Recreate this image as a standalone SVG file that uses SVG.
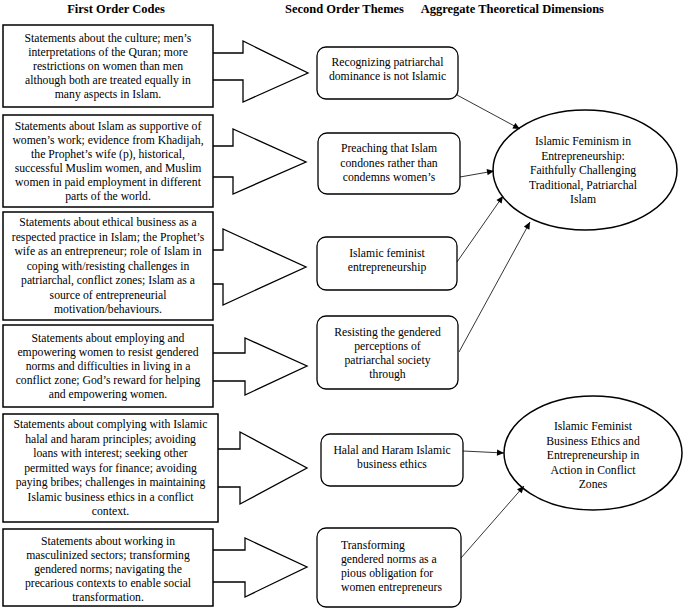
<svg xmlns="http://www.w3.org/2000/svg" width="685" height="610" viewBox="0 0 685 610">
<style>
.h{font-family:"Liberation Serif","Times New Roman",serif;font-weight:bold;font-size:12.5px;fill:#000}
.t{font-family:"Liberation Serif","Times New Roman",serif;font-size:11.7px;fill:#000;text-anchor:middle}
.tl{font-family:"Liberation Serif","Times New Roman",serif;font-size:11.7px;fill:#000}
.box{fill:#fff;stroke:#000;stroke-width:1.5}
.arr{fill:#fff;stroke:#000;stroke-width:1.3}
.rb{fill:#fff;stroke:#000;stroke-width:1.3}
.el{fill:#fff;stroke:#000;stroke-width:1.5}
.con{stroke:#000;stroke-width:0.8;fill:none;marker-end:url(#ah)}
</style>
<defs>
<marker id="ah" viewBox="0 0 10 10" refX="10" refY="5" markerWidth="8" markerHeight="7" markerUnits="userSpaceOnUse" orient="auto"><path d="M0,0.5 L10,5 L0,9.5 z" fill="#000"/></marker>
</defs>
<rect width="685" height="610" fill="#fff"/>
<g id="headers">
<text class="h" x="116" y="13" text-anchor="middle">First Order Codes</text>
<text class="h" x="285" y="13">Second Order Themes</text>
<text class="h" x="604" y="13" text-anchor="end">Aggregate Theoretical Dimensions</text>
</g>
<g id="big-arrows">
<path class="arr" d="M213,53 H243 V41 L308,73 L243,102 V80 H213"/>
<path class="arr" d="M213,146 H233 V129 L306,162 L233,194 V177 H213"/>
<path class="arr" d="M213,250 H223 V229 L306,267 L223,305 V284 H213"/>
<path class="arr" d="M213,353 H245 V338 L307,366 L245,395 V381 H213"/>
<path class="arr" d="M218,449 H240 V432 L307,468 L240,504 V487 H218"/>
<path class="arr" d="M213,550 H245 V538 L307,567 L245,597 V582 H213"/>
</g>
<g id="code1">
<rect class="box" x="3" y="25" width="210" height="82"/>
<text class="t" x="108" y="42">Statements about the culture; men’s</text>
<text class="t" x="108" y="56">interpretations of the Quran; more</text>
<text class="t" x="108" y="70">restrictions on women than men</text>
<text class="t" x="108" y="84">although both are treated equally in</text>
<text class="t" x="108" y="98">many aspects in Islam.</text>
</g>
<g id="code2">
<rect class="box" x="3" y="115" width="210" height="92"/>
<text class="t" x="108" y="130">Statements about Islam as supportive of</text>
<text class="t" x="108" y="144">women’s work; evidence from Khadijah,</text>
<text class="t" x="108" y="158">the Prophet’s wife (p), historical,</text>
<text class="t" x="108" y="172">successful Muslim women, and Muslim</text>
<text class="t" x="108" y="186">women in paid employment in different</text>
<text class="t" x="108" y="200">parts of the world.</text>
</g>
<g id="code3">
<rect class="box" x="3" y="212" width="210" height="108"/>
<text class="t" x="108" y="226">Statements about ethical business as a</text>
<text class="t" x="108" y="240.5">respected practice in Islam; the Prophet’s</text>
<text class="t" x="108" y="255">wife as an entrepreneur; role of Islam in</text>
<text class="t" x="108" y="269.5">coping with/resisting challenges in</text>
<text class="t" x="108" y="284">patriarchal, conflict zones; Islam as a</text>
<text class="t" x="108" y="298.5">source of entrepreneurial</text>
<text class="t" x="108" y="313">motivation/behaviours.</text>
</g>
<g id="code4">
<rect class="box" x="3" y="325" width="210" height="82"/>
<text class="t" x="108" y="342">Statements about employing and</text>
<text class="t" x="108" y="356">empowering women to resist gendered</text>
<text class="t" x="108" y="370">norms and difficulties in living in a</text>
<text class="t" x="108" y="384">conflict zone; God’s reward for helping</text>
<text class="t" x="108" y="398">and empowering women.</text>
</g>
<g id="code5">
<rect class="box" x="3" y="414" width="215" height="108"/>
<text class="t" x="110.5" y="428">Statements about complying with Islamic</text>
<text class="t" x="110.5" y="442.5">halal and haram principles; avoiding</text>
<text class="t" x="110.5" y="457">loans with interest; seeking other</text>
<text class="t" x="110.5" y="471.5">permitted ways for finance; avoiding</text>
<text class="t" x="110.5" y="486">paying bribes; challenges in maintaining</text>
<text class="t" x="110.5" y="500.5">Islamic business ethics in a conflict</text>
<text class="t" x="110.5" y="515">context.</text>
</g>
<g id="code6">
<rect class="box" x="3" y="529" width="210" height="77"/>
<text class="t" x="108" y="544.5">Statements about working in</text>
<text class="t" x="108" y="558.5">masculinized sectors; transforming</text>
<text class="t" x="108" y="572.5">gendered norms; navigating the</text>
<text class="t" x="108" y="586.5">precarious contexts to enable social</text>
<text class="t" x="108" y="600.5">transformation.</text>
</g>
<g id="theme1">
<rect class="rb" x="317" y="47" width="141" height="52" rx="9"/>
<text class="t" x="387.5" y="66">Recognizing patriarchal</text>
<text class="t" x="387.5" y="80">dominance is not Islamic</text>
</g>
<g id="theme2">
<rect class="rb" x="318" y="133" width="142" height="61" rx="9"/>
<text class="t" x="389" y="152">Preaching that Islam</text>
<text class="t" x="389" y="166.5">condones rather than</text>
<text class="t" x="389" y="181">condemns women’s</text>
</g>
<g id="theme3">
<rect class="rb" x="317" y="237" width="140" height="53" rx="9"/>
<text class="t" x="387" y="257">Islamic feminist</text>
<text class="t" x="387" y="271">entrepreneurship</text>
</g>
<g id="theme4">
<rect class="rb" x="317" y="316" width="141" height="73" rx="9"/>
<text class="t" x="387.5" y="336">Resisting the gendered</text>
<text class="t" x="387.5" y="350">perceptions of</text>
<text class="t" x="387.5" y="364">patriarchal society</text>
<text class="t" x="387.5" y="378">through</text>
</g>
<g id="theme5">
<rect class="rb" x="321" y="434" width="142" height="52" rx="9"/>
<text class="t" x="392" y="454">Halal and Haram Islamic</text>
<text class="t" x="392" y="468">business ethics</text>
</g>
<g id="theme6">
<rect class="rb" x="317" y="528" width="144" height="79" rx="9"/>
<text class="tl" x="341" y="549">Transforming</text>
<text class="tl" x="341" y="563">gendered norms as a</text>
<text class="tl" x="341" y="577">pious obligation for</text>
<text class="tl" x="341" y="591">women entrepreneurs</text>
</g>
<g id="dimension1">
<ellipse class="el" cx="585" cy="170" rx="92" ry="60"/>
<text class="t" x="583" y="145">Islamic Feminism in</text>
<text class="t" x="583" y="159.5">Entrepreneurship:</text>
<text class="t" x="583" y="174">Faithfully Challenging</text>
<text class="t" x="583" y="188.5">Traditional, Patriarchal</text>
<text class="t" x="583" y="203">Islam</text>
</g>
<g id="dimension2">
<ellipse class="el" cx="593" cy="453" rx="89" ry="57"/>
<text class="t" x="593" y="430">Islamic Feminist</text>
<text class="t" x="593" y="444.5">Business Ethics and</text>
<text class="t" x="593" y="459">Entrepreneurship in</text>
<text class="t" x="593" y="473.5">Action in Conflict</text>
<text class="t" x="593" y="488">Zones</text>
</g>
<g id="connectors">
<line class="con" x1="457" y1="95" x2="520" y2="129"/>
<line class="con" x1="460" y1="177" x2="494" y2="171"/>
<line class="con" x1="457" y1="262" x2="503" y2="196"/>
<line class="con" x1="459" y1="352" x2="530" y2="222"/>
<line class="con" x1="463" y1="451" x2="504" y2="453"/>
<line class="con" x1="461" y1="558" x2="524" y2="486"/>
</g>
</svg>
